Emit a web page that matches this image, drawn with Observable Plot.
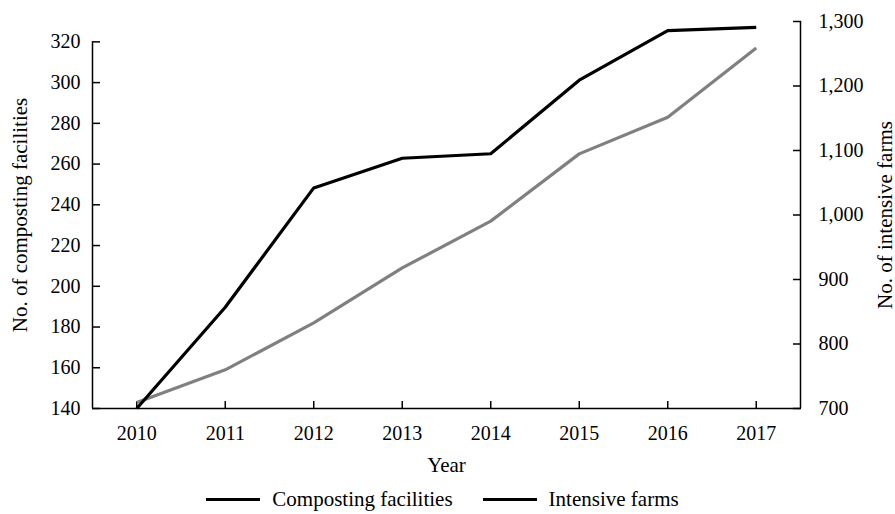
<!DOCTYPE html>
<html>
<head>
<meta charset="utf-8">
<script src="https://cdn.jsdelivr.net/npm/d3@7"></script>
<script src="https://cdn.jsdelivr.net/npm/@observablehq/plot@0.6"></script>
<style>
  body { margin: 0; background: #fff; color: #000; font-family: "Liberation Serif", "Times New Roman", serif; }
  #legend { display: flex; justify-content: center; align-items: center; height: 34px; font-size: 21px; padding-right: 10px; padding-top: 4px; box-sizing: border-box; }
  .item { display: flex; align-items: center; margin: 0 15px; }
  .swatch { width: 54px; height: 3px; margin-right: 12px; }
</style>
</head>
<body>
<div id="chart"></div>
<div id="legend"></div>
<script>
// Annual counts, 2010–2017
const years = [2010, 2011, 2012, 2013, 2014, 2015, 2016, 2017];
const compostingFacilities = [143, 159, 182, 209, 232, 265, 283, 317];
const intensiveFarms = [700, 857, 1042, 1088, 1095, 1209, 1286, 1291];

// Axis ticks
const leftTicks = [140, 160, 180, 200, 220, 240, 260, 280, 300, 320];
const rightTicks = [700, 800, 900, 1000, 1100, 1200, 1300];

// Vertical extent of the plot in each axis' units
const leftRange = [140, 330];
const rightRange = [700, 1300];

const seriesNames = ["Composting facilities", "Intensive farms"];
const seriesColors = ["#808080", "#000000"];
const legendColors = ["#000000", "#000000"];

// Map a right-axis value onto the shared (left-axis) y scale and back
const k = (leftRange[1] - leftRange[0]) / (rightRange[1] - rightRange[0]);
const toLeft = r => leftRange[0] + (r - rightRange[0]) * k;
const fromLeft = v => rightRange[0] + (v - leftRange[0]) / k;

const rows = [
  ...years.map((year, i) => ({year, series: seriesNames[0], y: compostingFacilities[i]})),
  ...years.map((year, i) => ({year, series: seriesNames[1], y: toLeft(intensiveFarms[i])}))
];

const xDomain = [years[0] - 0.5, years[years.length - 1] + 0.5];
const font = 20;
const titleFont = 21;

const chart = Plot.plot({
  width: 895,
  height: 480,
  marginTop: 21,
  marginBottom: 72,
  marginLeft: 92,
  marginRight: 95,
  style: {fontFamily: '"Liberation Serif", "Times New Roman", serif', fontSize: `${font}px`, color: "#000", background: "#fff", overflow: "visible"},
  x: {domain: xDomain},
  y: {domain: leftRange},
  marks: [
    // left axis
    Plot.axisY(leftTicks, {anchor: "left", tickSize: -8, tickPadding: 20, stroke: "#000", strokeWidth: 1.5, label: null, fontSize: font}),
    Plot.axisY([], {anchor: "left", tickSize: 0, label: "No. of composting facilities", labelAnchor: "center", labelArrow: "none", labelOffset: 80, fontSize: titleFont}),
    // right axis
    Plot.axisY(rightTicks.map(toLeft), {anchor: "right", tickSize: -8, tickPadding: 26, stroke: "#000", strokeWidth: 1.5,
      tickFormat: v => d3.format(",")(Math.round(fromLeft(v))), label: null, fontSize: font}),
    Plot.axisY([], {anchor: "right", tickSize: 0, label: "No. of intensive farms", labelAnchor: "center", labelArrow: "none", labelOffset: 91, fontSize: titleFont}),
    // bottom axis
    Plot.axisX(years, {anchor: "bottom", tickSize: -7, tickPadding: 24, stroke: "#000", strokeWidth: 1.5,
      tickFormat: d => String(d), label: null, fontSize: font}),
    Plot.axisX([], {anchor: "bottom", tickSize: 0, label: "Year", labelAnchor: "center", labelArrow: "none", labelOffset: 63, fontSize: titleFont}),
    // axis lines
    Plot.ruleX([xDomain[0]], {y1: leftTicks[0], y2: leftTicks[leftTicks.length - 1], stroke: "#000", strokeWidth: 1.5}),
    Plot.ruleX([xDomain[1]], {y1: toLeft(rightTicks[0]), y2: toLeft(rightTicks[rightTicks.length - 1]), stroke: "#000", strokeWidth: 1.5}),
    Plot.ruleY([leftTicks[0]], {stroke: "#000", strokeWidth: 1.5}),
    // series lines
    Plot.line(rows.filter(d => d.series === seriesNames[0]), {x: "year", y: "y", stroke: seriesColors[0], strokeWidth: 3.2, strokeLinejoin: "miter", strokeLinecap: "butt"}),
    Plot.line(rows.filter(d => d.series === seriesNames[1]), {x: "year", y: "y", stroke: seriesColors[1], strokeWidth: 3.2, strokeLinejoin: "miter", strokeLinecap: "butt"})
  ]
});
document.getElementById("chart").appendChild(chart);

const legend = document.getElementById("legend");
seriesNames.forEach((name, i) => {
  const item = document.createElement("div");
  item.className = "item";
  const sw = document.createElement("span");
  sw.className = "swatch";
  sw.style.background = legendColors[i];
  const label = document.createElement("span");
  label.textContent = name;
  item.append(sw, label);
  legend.appendChild(item);
});
</script>
</body>
</html>
